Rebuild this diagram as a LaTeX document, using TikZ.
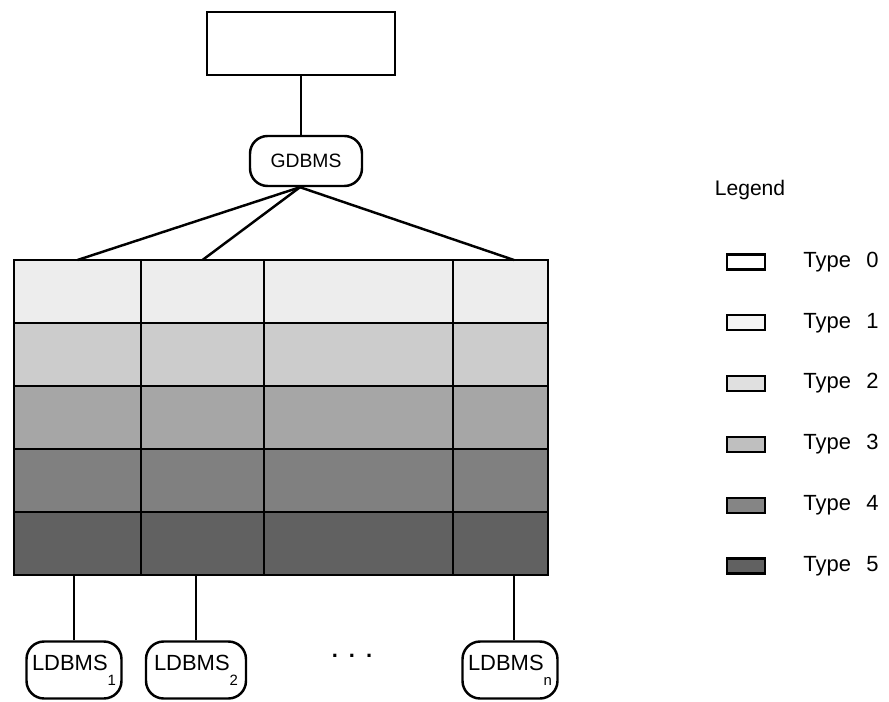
\documentclass[tikz,border=0pt]{standalone}
\usepackage{fontspec}
\setmainfont{Liberation Sans}
\usetikzlibrary{positioning}

\newcommand\lsub[1]{\raisebox{-1.3ex}{\fontsize{8.5}{9}\selectfont #1}}

\begin{document}
\begin{tikzpicture}[
    x=0.02cm, y=-0.02cm,
    font=\fontsize{12.5}{14}\selectfont,
    plain/.style={rectangle, draw, line width=1.4pt, fill=white, minimum width=3.76cm, minimum height=1.26cm},
    dbms/.style={rectangle, rounded corners=10pt, draw, line width=1.4pt, fill=white, inner sep=1pt},
    cell/.style={rectangle, draw, line width=1.4pt, inner sep=0pt, outer sep=0pt, minimum height=1.26cm},
    swatch/.style={rectangle, draw, line width=1.3pt, inner sep=0pt, minimum width=0.76cm, minimum height=0.3cm},
    link/.style={line width=1.4pt},
]
\useasboundingbox (0,0) rectangle (889,702);

\node[plain] (top) at (301,43.5) {};
\node[dbms, minimum width=2.24cm, minimum height=1cm, font=\fontsize{11}{13}\selectfont] (gdbms) at (306,161) {GDBMS};

\foreach \gr [count=\row] in {7,20,35,50,62}
  \foreach \xa/\xb [count=\col] in {14/141,141/264,264/453,453/548}
    \node[cell, fill=black!\gr, minimum width={(\xb-\xa)*0.02cm}] (c\row\col) at ({(\xa+\xb)/2},{228.5+63*\row}) {};

\node[dbms, minimum width=1.9cm, minimum height=1.14cm] (l1) at (74,670) {LDBMS\lsub{1}};
\node[dbms, minimum width=2cm, minimum height=1.14cm] (l2) at (196,670) {LDBMS\lsub{2}};
\node[dbms, minimum width=1.9cm, minimum height=1.14cm] (ln) at (510,670) {LDBMS\lsub{n}};
\node (dots) at (352,656) {\textbf{.\hspace{0.5em}.\hspace{0.5em}.}};

\coordinate (hub) at ([xshift=-0.12cm]gdbms.south);
\draw[link] (top.south) -- (top.south |- gdbms.north);
\draw[link] (hub) -- (c11.north);
\draw[link] (hub) -- (c12.north);
\draw[link] (hub) -- ([xshift=0.27cm]c14.north);
\draw[link] (l1.north) -- (l1.north |- c51.south);
\draw[link] (l2.north) -- (l2.north |- c52.south);
\draw[link] ([xshift=0.08cm]ln.north) -- ([xshift=0.08cm]ln.north |- c54.south);

\node[font=\fontsize{12}{14}\selectfont] (legend) at (750,190) {Legend};
\foreach \gr [count=\i from 0] in {0,4,12,25,48,62} {
  \node[swatch, fill=black!\gr] (sw\i) at (746,{262+60.8*\i}) {};
  \node[right=0.62cm of sw\i] (ty\i) {Type\hspace{0.7em}\i};
}
\end{tikzpicture}
\end{document}
